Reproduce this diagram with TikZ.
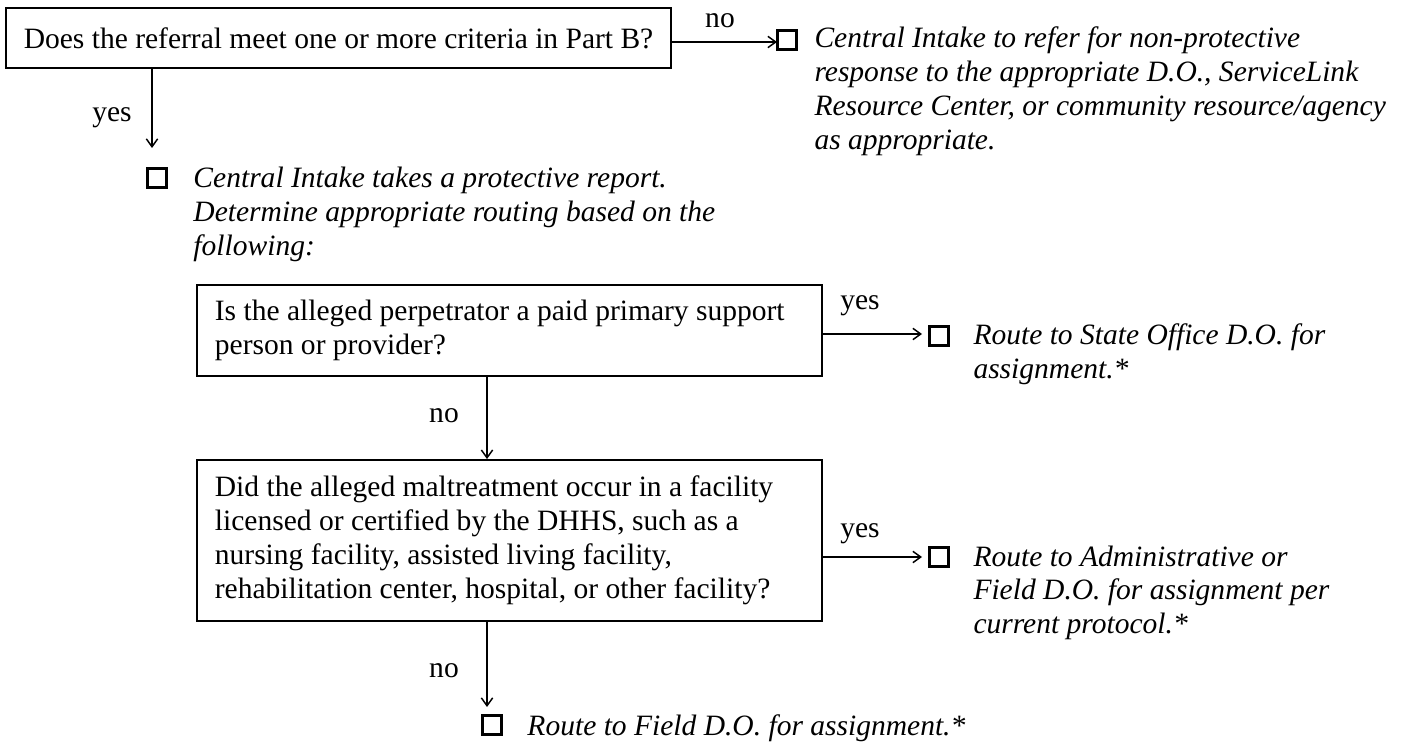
\documentclass[tikz,border=0pt]{standalone}
\usepackage{fontspec}
\setmainfont{Liberation Serif}
\usetikzlibrary{arrows.meta}
\newcommand{\toplines}[1]{\vtop{\halign{##\hfil\cr #1\crcr}}}
\begin{document}
\begin{tikzpicture}[x=0.4065pt,y=-0.4065pt,
  txt/.style={font=\fontsize{12pt}{13.8pt}\selectfont, inner sep=0pt},
  qbox/.style={txt, draw, line width=0.8pt, inner xsep=7.3pt, inner ysep=0pt, align=flush left},
  ital/.style={txt, font=\fontsize{12pt}{13.8pt}\selectfont\itshape, anchor=base west},
  lbl/.style={txt, anchor=base},
  chk/.style={draw, line width=1.2pt, minimum size=7.6pt, inner sep=0pt},
  arr/.style={line width=0.6pt, -{Straight Barb[length=3.2pt,width=4.6pt]}}]
\useasboundingbox (0,0) rectangle (1403,742);

% decision boxes
\node[qbox, minimum width=269.5pt, minimum height=24.4pt, align=center] (b1) at (338.5,38)
  {Does the referral meet one or more criteria in Part B?};
\node[qbox, text width=239.5pt, minimum height=37pt] (b2) at (509.5,330.5)
  {Is the alleged perpetrator a paid primary support\\person or provider?};
\node[qbox, text width=239.5pt, minimum height=65.4pt] (b3) at (509.5,540.5)
  {Did the alleged maltreatment occur in a facility\\licensed or certified by the DHHS, such as a\\nursing facility, assisted living facility,\\rehabilitation center, hospital, or other facility?};

% check boxes
\node[chk] (c1) at (787,40) {};
\node[chk] (c2) at (157,178) {};
\node[chk] (c3) at (939,336) {};
\node[chk] (c4) at (939,557) {};
\node[chk] (c5) at (492,725) {};

% outcome texts (anchored at the baseline of their first line)
\node[ital] (o1) at (814,48) {\toplines{Central Intake to refer for non-protective\cr response to the appropriate D.O., ServiceLink\cr Resource Center, or community resource/agency\cr as appropriate.}};
\node[ital] (o2) at (193,188) {\toplines{Central Intake takes a protective report.\cr Determine appropriate routing based on the\cr following:}};
\node[ital] (o3) at (973,345) {\toplines{Route to State Office D.O. for\cr assignment.*}};
\node[ital] (o4) at (973,566) {\toplines{Route to Administrative or\cr Field D.O. for assignment per\cr current protocol.*}};
\node[ital] (o5) at (527,735) {Route to Field D.O. for assignment.*};

% arrow end points
\coordinate (t1) at (777,42);
\coordinate (t2) at (152,148);
\coordinate (t3) at (922,334);
\coordinate (t4) at (922,557);
\coordinate (t5) at (487,707);
\coordinate (t6) at (487,460);

% connectors
\draw[arr] (b1.east |- t1) -- (t1);
\draw[arr] (b1.south -| t2) -- (t2);
\draw[arr] (b2.east |- t3) -- (t3);
\draw[arr] (b2.south -| t6) -- (b3.north -| t6);
\draw[arr] (b3.east |- t4) -- (t4);
\draw[arr] (b3.south -| t5) -- (t5);

% labels
\node[lbl] (l1) at (720,28) {no};
\node[lbl] (l2) at (112,122) {yes};
\node[lbl] (l3) at (860,310) {yes};
\node[lbl] (l4) at (444,422) {no};
\node[lbl] (l5) at (860,537) {yes};
\node[lbl] (l6) at (444,677) {no};
\end{tikzpicture}
\end{document}
